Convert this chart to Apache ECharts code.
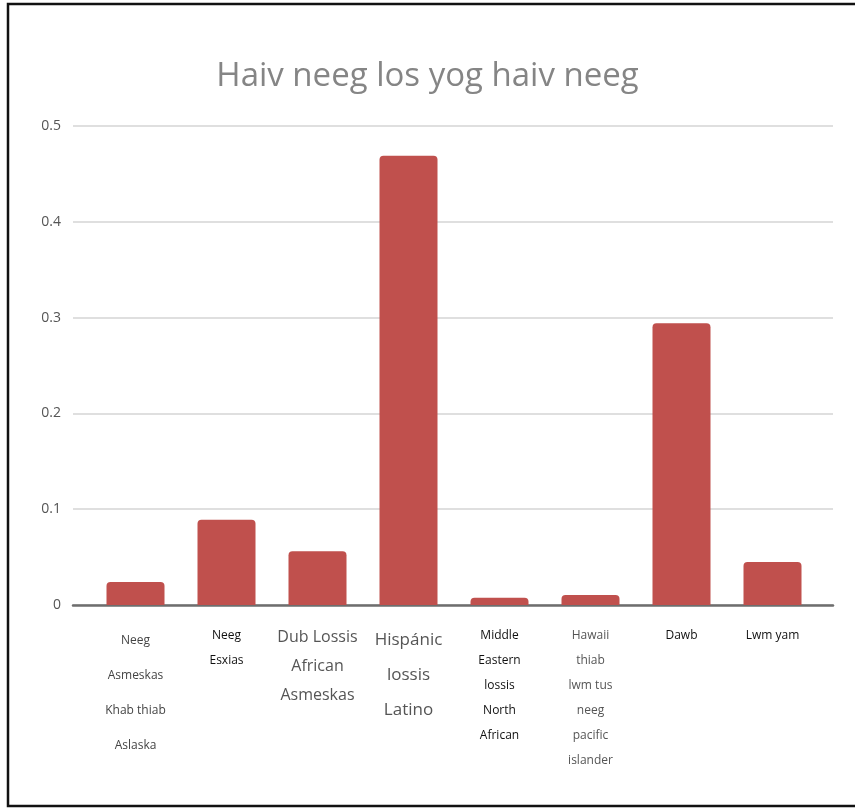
<!DOCTYPE html>
<html>
<head>
<meta charset="utf-8">
<script src="https://cdn.jsdelivr.net/npm/echarts@6/dist/echarts.min.js"></script>
<style>
  html, body { margin: 0; padding: 0; background: #fff; }
  #chart { width: 855px; height: 809px; }
</style>
</head>
<body>
<div id="chart"></div>
<script>
// chart data
const categories = [
  'Neeg\nAsmeskas\nKhab thiab\nAslaska',
  'Neeg\nEsxias',
  'Dub Lossis\nAfrican\nAsmeskas',
  'Hispánic\nlossis\nLatino',
  'Middle\nEastern\nlossis\nNorth\nAfrican',
  'Hawaii\nthiab\nlwm tus\nneeg\npacific\nislander',
  'Dawb',
  'Lwm yam'
];
const values = [0.024, 0.089, 0.056, 0.469, 0.0075, 0.0105, 0.294, 0.045];
const yTicks = [0, 0.1, 0.2, 0.3, 0.4, 0.5];

// label look per category (the source picture mixes styles)
const labelKinds = ['s', 'b', 'l', 'x', 'm', 'h', 'm', 'm'];

const chart = echarts.init(document.getElementById('chart'));

const option = {
  animation: false,
  title: {
    text: 'Haiv neeg los yog haiv neeg',
    left: 'center',
    top: 55,
    textStyle: { fontFamily: 'Open Sans', fontWeight: 'normal', fontSize: 33, color: '#858585' }
  },
  graphic: [{
    type: 'rect',
    shape: { x: 8, y: 4, width: 870, height: 802 },
    style: { fill: 'none', stroke: '#111', lineWidth: 2.5 },
    z: 100
  }],
  grid: [
    // background grid: gridlines + axis line span the full width
    { left: 73, right: 22, top: 126, bottom: 204, outerBoundsMode: 'none', containLabel: false },
    // bars
    { left: 90, right: 37, top: 126, bottom: 204, outerBoundsMode: 'none', containLabel: false }
  ],
  xAxis: [{
    gridIndex: 0,
    type: 'category',
    data: [''],
    axisLine: { lineStyle: { color: '#6e6e6e', width: 2.5 } },
    axisTick: { show: false },
    axisLabel: { show: false }
  }, {
    gridIndex: 1,
    type: 'category',
    data: categories,
    axisLine: { show: false },
    axisTick: { show: false },
    axisLabel: {
      interval: 0,
      margin: 18,
      formatter: function (val, idx) {
        const k = labelKinds[idx];
        return val.split('\n').map(s => '{' + k + '|' + s + '}').join('\n');
      },
      rich: {
        s: { fontFamily: 'Open Sans', fontSize: 12, color: '#444', lineHeight: 35 },
        b: { fontFamily: 'Open Sans', fontSize: 12, color: '#111', lineHeight: 25 },
        l: { fontFamily: 'Open Sans', fontSize: 16, color: '#555', lineHeight: 29 },
        x: { fontFamily: 'Open Sans', fontSize: 17, color: '#555', lineHeight: 35 },
        m: { fontFamily: 'Open Sans', fontSize: 12, color: '#111', lineHeight: 25 },
        h: { fontFamily: 'Open Sans', fontSize: 12, color: '#555', lineHeight: 25 }
      }
    }
  }],
  yAxis: [{
    gridIndex: 0,
    type: 'value',
    min: 0,
    max: 0.5,
    interval: 0.1,
    axisLine: { show: false },
    axisTick: { show: false },
    axisLabel: {
      margin: 12,
      fontFamily: 'Open Sans',
      fontSize: 14,
      color: '#555',
      formatter: v => String(Math.round(v * 10) / 10)
    },
    splitLine: { lineStyle: { color: '#d4d4d4', width: 1.5 } }
  }, {
    gridIndex: 1,
    type: 'value',
    min: yTicks[0],
    max: yTicks[yTicks.length - 1],
    interval: 0.1,
    show: false,
    splitLine: { show: false }
  }],
  series: [{
    type: 'bar',
    xAxisIndex: 1,
    yAxisIndex: 1,
    data: values,
    barWidth: 58,
    itemStyle: { color: '#c0504d', borderRadius: [4, 4, 0, 0] },
    z: 3
  }]
};

chart.setOption(option);
</script>
</body>
</html>
